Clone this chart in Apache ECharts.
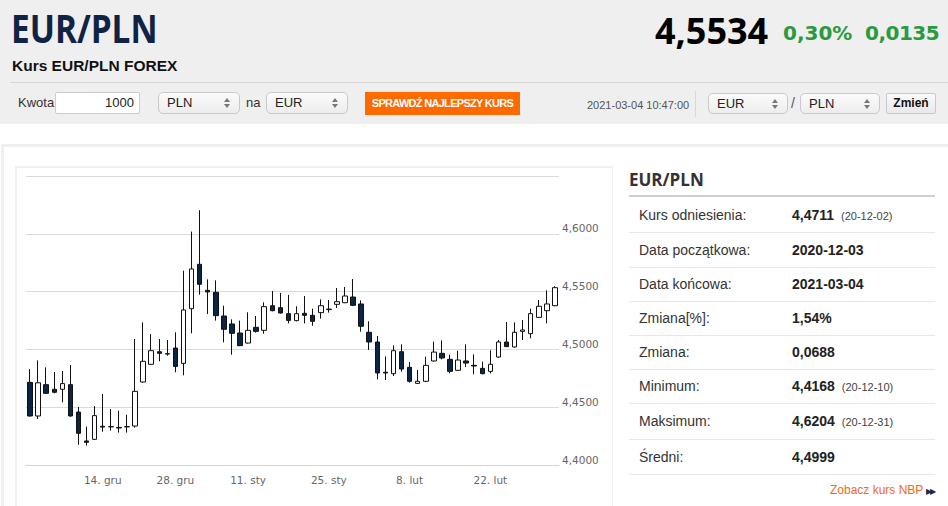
<!DOCTYPE html>
<html><head><meta charset="utf-8">
<script src="https://cdn.jsdelivr.net/npm/echarts@6/dist/echarts.min.js"></script>
<style>
body{margin:0;width:948px;height:506px;overflow:hidden;background:#fff;font-family:'Liberation Sans',Arial,sans-serif;position:relative}
.a{position:absolute;white-space:nowrap}
.sel{position:absolute;height:22px;border:1px solid #c9c9c9;border-radius:5px;background:linear-gradient(#fbfbfb,#ededed);font:13px/20px 'Liberation Sans',Arial;color:#222;padding-left:8px;box-sizing:border-box}
.sel:before,.sel:after{content:'';position:absolute;right:9px;border-left:3px solid transparent;border-right:3px solid transparent}
.sel:before{top:5px;border-bottom:4px solid #777}
.sel:after{top:11px;border-top:4px solid #777}
.row{position:absolute;left:629px;width:306px;height:34px;border-bottom:1px solid #e8e8e8}
.lab{position:absolute;left:10px;top:0;font:14px/34px 'Liberation Sans',Arial;color:#333}
.val{position:absolute;left:163px;top:0;font:bold 14px/34px 'Liberation Sans',Arial;color:#222}
.dt{font:11px 'Liberation Sans',Arial;color:#444;font-weight:normal;margin-left:7px}
</style></head>
<body>
<div class="a" style="left:0;top:0;width:948px;height:124px;background:#efefef"></div>
<div class="a" style="left:11px;top:8px;font:700 39px/40px 'Open Sans';color:#0f2444;transform:scaleX(0.855);transform-origin:0 0">EUR/PLN</div>
<div class="a" style="left:12px;top:58px;font:bold 15.5px/16px 'Liberation Sans',Arial;color:#111">Kurs EUR/PLN FOREX</div>
<div class="a" style="left:655px;top:12px;font:700 36px/38px 'Open Sans';color:#000">4,5534</div>
<div class="a" style="left:783px;top:21px;font:bold 20px/24px 'DejaVu Sans';color:#2a9a40">0,30%</div>
<div class="a" style="left:865px;top:21px;font:bold 20px/24px 'DejaVu Sans';color:#2a9a40;letter-spacing:-0.5px">0,0135</div>
<div class="a" style="left:10px;top:82px;width:938px;height:1px;background:#d6d6d6"></div>
<div class="a" style="left:18px;top:95px;font:13px/16px 'Liberation Sans',Arial;color:#333">Kwota</div>
<div class="a" style="left:55px;top:92px;width:85px;height:22px;box-sizing:border-box;border:1px solid #ccc;border-radius:2px;background:#fff;font:13px/20px 'Liberation Sans',Arial;color:#222;text-align:right;padding-right:5px">1000</div>
<div class="sel" style="left:158px;top:92px;width:82px">PLN</div>
<div class="a" style="left:246px;top:95px;font:13px/16px 'Liberation Sans',Arial;color:#333">na</div>
<div class="sel" style="left:266px;top:92px;width:82px">EUR</div>
<div class="a" style="left:365px;top:92px;width:155px;height:23px;background:#ff6a00;color:#fff;font:bold 11px/23px 'Liberation Sans',Arial;letter-spacing:-0.7px;text-align:center">SPRAWDŹ NAJLEPSZY KURS</div>
<div class="a" style="left:587px;top:98px;font:11px/14px 'Liberation Sans',Arial;color:#555">2021-03-04 10:47:00</div>
<div class="a" style="left:695px;top:91px;width:1px;height:26px;background:#d8d8d8"></div>
<div class="sel" style="left:708px;top:93px;width:80px;height:21px">EUR</div>
<div class="a" style="left:791px;top:95px;font:14px/16px 'Liberation Sans',Arial;color:#555">/</div>
<div class="sel" style="left:800px;top:93px;width:80px;height:21px">PLN</div>
<div class="a" style="left:886px;top:93px;width:50px;height:21px;box-sizing:border-box;border:1px solid #c9c9c9;border-radius:2px;background:linear-gradient(#fafafa,#e9e9e9);font:bold 12px/19px 'Liberation Sans',Arial;color:#111;text-align:center">Zmień</div>

<div class="a" style="left:1px;top:144px;width:960px;height:400px;box-sizing:border-box;border:3px solid #efefef"></div>
<div class="a" style="left:15px;top:166px;width:598px;height:360px;box-sizing:border-box;border:2px solid #f0f0f0;border-right-width:1px"></div>
<div id="chart" class="a" style="left:16px;top:166px;width:597px;height:330px"></div>

<div class="a" style="left:629px;top:170px;font:700 17px/20px 'Open Sans';color:#333">EUR/PLN</div>
<div class="a" style="left:629px;top:195px;width:306px;height:2px;background:#cfcfcf"></div>
<div class="row" style="top:198px"><span class="lab">Kurs odniesienia:</span><span class="val">4,4711<span class="dt">(20-12-02)</span></span></div>
<div class="row" style="top:233px"><span class="lab">Data początkowa:</span><span class="val">2020-12-03</span></div>
<div class="row" style="top:267px"><span class="lab">Data końcowa:</span><span class="val">2021-03-04</span></div>
<div class="row" style="top:301px"><span class="lab">Zmiana[%]:</span><span class="val">1,54%</span></div>
<div class="row" style="top:335px"><span class="lab">Zmiana:</span><span class="val">0,0688</span></div>
<div class="row" style="top:369px"><span class="lab">Minimum:</span><span class="val">4,4168<span class="dt">(20-12-10)</span></span></div>
<div class="row" style="top:404px;height:35px"><span class="lab" style="line-height:35px">Maksimum:</span><span class="val" style="line-height:35px">4,6204<span class="dt">(20-12-31)</span></span></div>
<div class="row" style="top:440px"><span class="lab">Średni:</span><span class="val">4,4999</span></div>
<div class="a" style="left:830px;top:483px;font:12px/14px 'Liberation Sans',Arial;color:#f26a1b">Zobacz kurs NBP <span style="font-size:8px;color:#1a2a44;letter-spacing:-2px">▶▶</span></div>

<script>
const dates = ['2020-12-01','2020-12-02','2020-12-03','2020-12-04','2020-12-07','2020-12-08','2020-12-09','2020-12-10','2020-12-11',
'2020-12-14','2020-12-15','2020-12-16','2020-12-17','2020-12-18','2020-12-21','2020-12-22','2020-12-23','2020-12-24',
'2020-12-28','2020-12-29','2020-12-30','2020-12-31','2021-01-04','2021-01-05','2021-01-06','2021-01-07','2021-01-08',
'2021-01-11','2021-01-12','2021-01-13','2021-01-14','2021-01-15','2021-01-18','2021-01-19','2021-01-20','2021-01-21','2021-01-22',
'2021-01-25','2021-01-26','2021-01-27','2021-01-28','2021-01-29','2021-02-01','2021-02-02','2021-02-03','2021-02-04','2021-02-05',
'2021-02-08','2021-02-09','2021-02-10','2021-02-11','2021-02-12','2021-02-15','2021-02-16','2021-02-17','2021-02-18','2021-02-19',
'2021-02-22','2021-02-23','2021-02-24','2021-02-25','2021-02-26','2021-03-01','2021-03-02','2021-03-03','2021-03-04'];
const opens = [4.4715,4.4424,4.4695,4.4655,4.4655,4.4695,4.4458,4.4208,4.4222,
4.4335,4.4330,4.4325,4.4330,4.4337,4.4718,4.4871,4.4980,4.4963,
4.5012,4.4879,4.5352,4.5736,4.5511,4.5494,4.5289,4.5220,4.5142,
4.5055,4.5191,4.5165,4.5378,4.5361,4.5309,4.5249,4.5312,4.5295,4.5318,
4.5344,4.5390,4.5404,4.5453,4.5393,4.5148,4.5064,4.4802,4.4790,4.4980,
4.4845,4.4706,4.4724,4.4900,4.4966,4.4914,4.4819,4.4900,4.4862,4.4836,
4.4810,4.4934,4.5064,4.5021,4.5156,4.5136,4.5277,4.5335,4.5378];
const closes = [4.4424,4.4711,4.4620,4.4629,4.4704,4.4424,4.4274,4.4196,4.4427,
4.4328,4.4332,4.4320,4.4332,4.4637,4.4897,4.4989,4.4966,4.4960,
4.4853,4.5341,4.5696,4.5563,4.5497,4.5292,4.5174,4.5139,4.5032,
4.5165,4.5156,4.5370,4.5335,4.5315,4.5251,4.5309,4.5295,4.5243,4.5378,
4.5349,4.5413,4.5462,4.5381,4.5200,4.5064,4.4796,4.4796,4.4989,4.4830,
4.4724,4.4724,4.4862,4.4977,4.4926,4.4810,4.4908,4.4882,4.4856,4.4790,
4.4871,4.5064,4.5024,4.5148,4.5168,4.5309,4.5373,4.5393,4.5534];
const lows = [4.4418,4.4398,4.4614,4.4620,4.4542,4.4418,4.4175,4.4168,4.4216,
4.4288,4.4297,4.4280,4.4280,4.4323,4.4712,4.4868,4.4897,4.4946,
4.4802,4.4776,4.5139,4.5473,4.5306,4.5249,4.5061,4.4954,4.5029,
4.5050,4.5145,4.5136,4.5329,4.5309,4.5225,4.5243,4.5225,4.5205,4.5266,
4.5318,4.5358,4.5400,4.5375,4.5153,4.4995,4.4741,4.4735,4.4770,4.4807,
4.4712,4.4701,4.4718,4.4894,4.4914,4.4793,4.4813,4.4848,4.4784,4.4784,
4.4793,4.4928,4.5021,4.5015,4.5081,4.5096,4.5272,4.5225,4.5373];
const highs = [4.4830,4.4905,4.4845,4.4805,4.4813,4.4865,4.4502,4.4332,4.4510,
4.4614,4.4484,4.4470,4.4435,4.5090,4.5234,4.5133,4.5090,4.5081,
4.5148,4.5681,4.6019,4.6204,4.5606,4.5597,4.5378,4.5260,4.5249,
4.5321,4.5289,4.5407,4.5505,4.5488,4.5471,4.5373,4.5462,4.5352,4.5433,
4.5427,4.5531,4.5540,4.5609,4.5424,4.5243,4.5116,4.4940,4.5035,4.5044,
4.4891,4.4822,4.4937,4.5067,4.5078,4.4954,4.4989,4.5044,4.4957,4.4894,
4.4992,4.5081,4.5237,4.5234,4.5254,4.5352,4.5427,4.5511,4.5546];
const tickLabels = {'2020-12-14':'14. gru','2020-12-28':'28. gru','2021-01-11':'11. sty','2021-01-25':'25. sty','2021-02-08':'8. lut','2021-02-22':'22. lut'};
const yMin = 4.40, yMax = 4.65, yStep = 0.05;

const candles = dates.map((d,i)=>[opens[i],closes[i],lows[i],highs[i]]);
const isTick = (i, v) => tickLabels.hasOwnProperty(v);
const chart = echarts.init(document.getElementById('chart'), null, {renderer:'svg'});
chart.setOption({
  animation:false,
  grid:{left:10,right:54,top:10,bottom:31},
  xAxis:{type:'category',data:dates,boundaryGap:true,
    axisLine:{lineStyle:{color:'#ccd6eb'}},
    axisTick:{alignWithLabel:true,length:8,interval:isTick,lineStyle:{color:'#ccd6eb'}},
    axisLabel:{interval:isTick,formatter:v=>tickLabels[v]||'',margin:9,color:'#666',fontSize:10.5,fontFamily:'DejaVu Sans'},
    splitLine:{show:false}},
  yAxis:{type:'value',position:'right',min:yMin,max:yMax,interval:yStep,
    axisLine:{show:false},axisTick:{show:false},
    splitLine:{lineStyle:{color:'#dadada'}},
    axisLabel:{showMaxLabel:false,margin:3,verticalAlign:'bottom',color:'#666',fontSize:10.5,fontFamily:'DejaVu Sans',
      formatter:v=>v.toFixed(4).replace('.',',')}},
  series:[{type:'candlestick',data:candles,barWidth:5,
    itemStyle:{color:'#ffffff',color0:'#0b2547',borderColor:'#111',borderColor0:'#111',borderWidth:1}}]
});
</script>
</body></html>
